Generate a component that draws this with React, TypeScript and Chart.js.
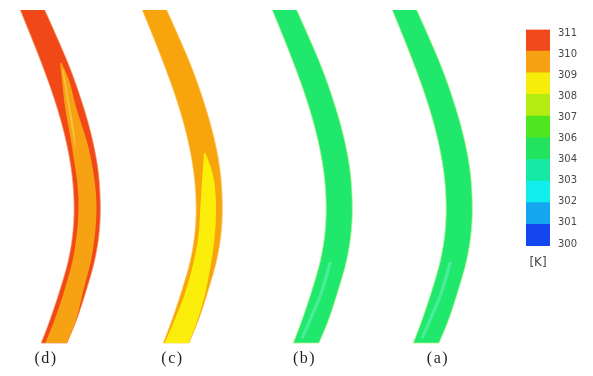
import React, { useEffect, useRef } from 'react';
import { Chart, registerables } from 'chart.js';

Chart.register(...registerables);

// ---- blade panels ----
const BLADE_LABELS = ['(d)', '(c)', '(b)', '(a)'];
const BLADE_DX = [0, 122, 252, 372];
const LABEL_X = [46, 172.5, 304.5, 438];
const BLADE_FILL = ['#f04816', '#f8a40c', '#20e86c', '#20e86c'];
const BLADE_EDGE = ['rgba(246,140,90,0.7)', 'rgba(252,200,90,0.7)', 'rgba(175,245,140,0.8)', 'rgba(175,245,140,0.8)'];

// blade profile (shared by the four panels)
const PROFILE_Y = [10, 33, 67, 100, 133, 167, 200, 230, 260, 290, 320, 343];
const LEFT_X = [20.3, 29.7, 43, 54.7, 64.2, 71, 74, 73.2, 68.5, 60, 50, 41.3];
const RIGHT_X = [44.7, 55, 69.5, 81.2, 90.8, 97.6, 100.2, 99.4, 94.7, 86.3, 76.5, 67];

// (d): 310-309 K core inside the 311-310 K blade
const D_INNER_Y = [63, 80, 107, 150, 200, 250, 290, 320, 343];
const D_INNER_L = [60, 62, 65, 72.5, 78.5, 74.6, 64.5, 54.5, 45.3];
const D_INNER_R = [61.5, 69, 76, 89, 96.3, 93, 83.5, 76, 67];
const D_INNER_COLOR = '#f7a212';

// (d): light streak
const D_STREAK_Y = [70, 100, 130, 148];
const D_STREAK_L = [62.2, 67, 72, 75];
const D_STREAK_R = [63.6, 69, 74, 75.8];
const D_STREAK_COLOR = '#f9c040';

// (c): 309-308 K core inside the 310-309 K blade
const C_INNER_Y = [153, 175, 205, 243, 290, 320, 343];
const C_INNER_L = [82, 80.5, 78.5, 75.5, 64, 52.5, 42.6];
const C_INNER_R = [83.5, 91, 94, 92, 84, 75.5, 66.5];
const C_INNER_COLOR = '#fbee0a';

// (b), (a): faint lighter streak near the root
const G_STREAK_Y = [262, 290, 315, 338];
const G_STREAK_L = [76.5, 68.5, 58.5, 48.5];
const G_STREAK_R = [80, 72, 62, 52];
const G_STREAK_COLOR = 'rgba(110,242,196,0.5)';

// ---- colour bar ----
const CB_LABELS = ['300', '301', '302', '303', '304', '306', '307', '308', '309', '310', '311'];
const CB_SEGMENTS = [1, 1, 1, 1, 1, 1, 1, 1, 1, 1];
const CB_COLORS = ['#1446ee', '#14a6ee', '#12eeee', '#16e8a6', '#22e25e', '#4ee61e', '#b2ec10', '#f6ee0a', '#f7a212', '#f04a1c'];

type Pt = { x: number; y: number };

function outline(ys: number[], left: number[], right: number[], dx: number): Pt[] {
  const pts: Pt[] = [];
  for (let i = 0; i < ys.length; i++) pts.push({ x: left[i] + dx, y: ys[i] });
  const n = ys.length - 1;
  pts.push({ x: left[n] + dx, y: ys[n] });
  pts.push({ x: right[n] + dx, y: ys[n] });
  for (let i = n; i >= 0; i--) pts.push({ x: right[i] + dx, y: ys[i] });
  return pts;
}

const spacingPlugin = {
  id: 'labelSpacing',
  beforeDraw(c: any) {
    c.ctx.letterSpacing = '1.5px';
  },
  afterDraw(c: any) {
    c.ctx.letterSpacing = '0px';
  },
};

export default function App() {
  const mainRef = useRef<HTMLCanvasElement>(null);
  const barRef = useRef<HTMLCanvasElement>(null);

  useEffect(() => {
    const region = (data: Pt[], color: string, order: number, edge?: string) => ({
      data,
      xAxisID: 'x',
      yAxisID: 'y',
      backgroundColor: color,
      borderColor: edge || 'transparent',
      borderWidth: edge ? 1 : 0,
      fill: 'shape',
      tension: 0.35,
      pointRadius: 0,
      order,
    });

    const datasets: any[] = [];
    BLADE_DX.forEach((dx, i) => {
      datasets.push(region(outline(PROFILE_Y, LEFT_X, RIGHT_X, dx), BLADE_FILL[i], 3, BLADE_EDGE[i]));
    });
    datasets.push(region(outline(D_INNER_Y, D_INNER_L, D_INNER_R, BLADE_DX[0]), D_INNER_COLOR, 2));
    datasets.push(region(outline(D_STREAK_Y, D_STREAK_L, D_STREAK_R, BLADE_DX[0]), D_STREAK_COLOR, 1));
    datasets.push(region(outline(C_INNER_Y, C_INNER_L, C_INNER_R, BLADE_DX[1]), C_INNER_COLOR, 2));
    [2, 3].forEach((i) => {
      datasets.push(region(outline(G_STREAK_Y, G_STREAK_L, G_STREAK_R, BLADE_DX[i]), G_STREAK_COLOR, 1));
    });

    const main = new Chart(mainRef.current as HTMLCanvasElement, {
      type: 'line',
      data: { datasets },
      options: {
        animation: false,
        responsive: false,
        layout: { padding: 0 },
        plugins: { legend: { display: false }, tooltip: { enabled: false } },
        scales: {
          x: { type: 'linear', min: 0, max: 593, display: false },
          y: { type: 'linear', min: 0, max: 345, reverse: true, display: false },
          labels: {
            type: 'linear',
            axis: 'x',
            position: 'bottom',
            min: 0,
            max: 593,
            grid: { display: false, drawTicks: false },
            border: { display: false },
            afterBuildTicks: (s: any) => {
              s.ticks = LABEL_X.map((v) => ({ value: v }));
            },
            afterFit: (s: any) => {
              s.height = 31;
            },
            ticks: {
              autoSkip: false,
              maxRotation: 0,
              padding: 4,
              color: '#1f1f1f',
              font: { family: 'Liberation Serif', size: 16 },
              callback: (_v: any, i: number) => BLADE_LABELS[i],
            },
          },
        },
      } as any,
      plugins: [spacingPlugin],
    });

    const bar = new Chart(barRef.current as HTMLCanvasElement, {
      type: 'bar',
      data: {
        labels: [''],
        datasets: CB_COLORS.map((c, i) => ({
          data: [CB_SEGMENTS[i]],
          backgroundColor: c,
          borderWidth: 0,
          barPercentage: 1,
          categoryPercentage: 1,
          stack: 'k',
          xAxisID: 'x',
          yAxisID: 'y',
        })),
      },
      options: {
        animation: false,
        responsive: false,
        layout: { padding: { left: 16, top: 29.5, right: 0, bottom: 0 } },
        plugins: { legend: { display: false }, tooltip: { enabled: false } },
        scales: {
          x: {
            stacked: true,
            grid: { display: false, drawTicks: false },
            border: { display: false },
            ticks: { display: false },
            title: {
              display: true,
              text: '[K]',
              color: '#484848',
              font: { family: 'DejaVu Sans', size: 12 },
              padding: { top: 9.8, bottom: 3.8 },
            },
          },
          y: { stacked: true, min: 0, max: 10, display: false },
          yl: {
            type: 'linear',
            position: 'right',
            min: -0.0947,
            max: 10.166,
            grid: { display: false, drawTicks: false },
            border: { display: false },
            afterBuildTicks: (s: any) => {
              s.ticks = CB_LABELS.map((_l, i) => ({ value: i }));
            },
            afterFit: (s: any) => {
              s.width = 43;
            },
            ticks: {
              autoSkip: false,
              padding: 8,
              color: '#484848',
              font: { family: 'DejaVu Sans', size: 10 },
              callback: (_v: any, i: number) => CB_LABELS[i],
            },
          },
        },
      } as any,
    });

    return () => {
      main.destroy();
      bar.destroy();
    };
  }, []);

  return (
    <div style={{ position: 'fixed', left: 0, top: 0, width: 593, height: 376, background: '#ffffff' }}>
      <canvas
        ref={mainRef}
        width={593}
        height={376}
        style={{ position: 'absolute', left: 0, top: 0, width: 593, height: 376 }}
      />
      <canvas
        ref={barRef}
        width={83}
        height={274}
        style={{ position: 'absolute', left: 510, top: 0, width: 83, height: 274 }}
      />
    </div>
  );
}
